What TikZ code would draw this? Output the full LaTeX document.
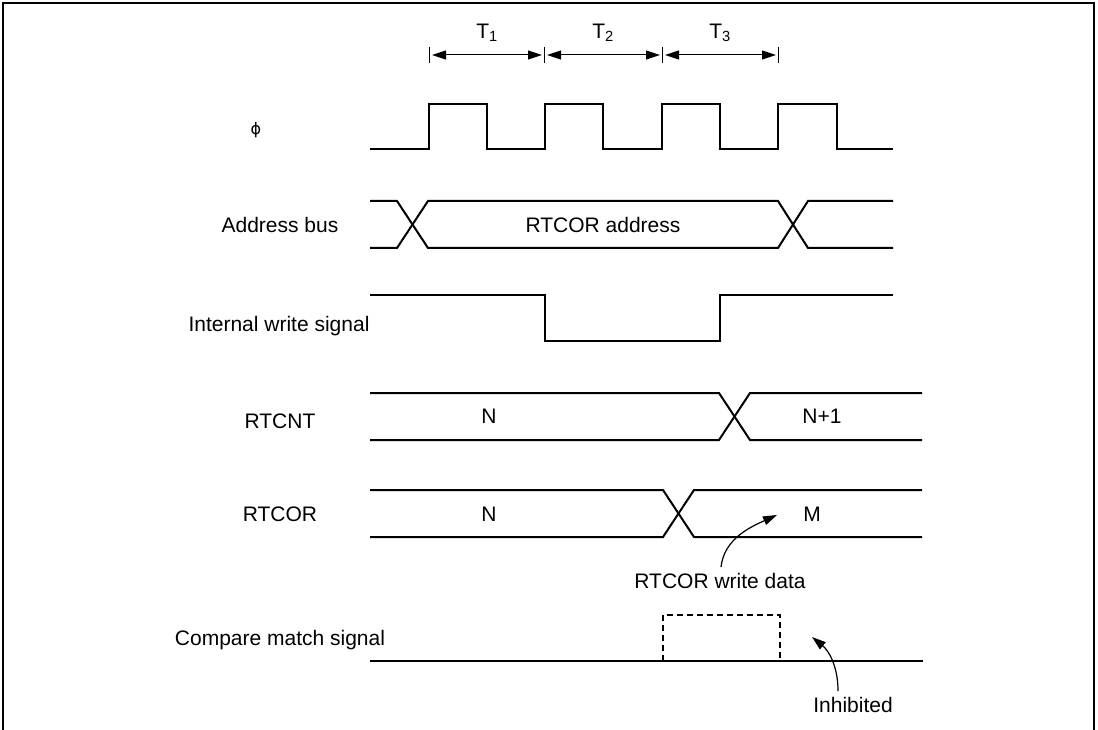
\documentclass[tikz,border=0pt]{standalone}
\usepackage{fontspec}
\setmainfont{Liberation Sans}
\newfontfamily\symfont{DejaVu Sans}
\usetikzlibrary{arrows.meta}
\begin{document}
\begin{tikzpicture}[x=1pt,y=-1pt,
  wave/.style={line width=2pt,line join=miter},
  lbl/.style={inner sep=0pt,font=\fontsize{21}{25}\selectfont},
  frame/.style={line width=1.5pt},
  tick/.style={line width=1pt},
  dim/.style={line width=1pt,{Triangle[length=14pt,width=9pt]}-{Triangle[length=14pt,width=9pt]},shorten <=3pt,shorten >=2pt},
  callout/.style={line width=1.2pt,-{Triangle[length=14pt,width=9pt]}},
  dashbox/.style={line width=1.3pt,dash pattern=on 6pt off 4pt}]
\useasboundingbox (0,0) rectangle (1098,730);
% frame
\draw[frame] (3,730) -- (3,3) -- (1094,3) -- (1094,730);
% T markers
\foreach \n/\x in {a/429,b/544,c/662,d/778}{
  \coordinate (t\n) at (\x,55);
  \draw[tick] (\x,47) -- (\x,63);
}
\draw[dim] (ta) -- (tb);
\draw[dim] (tb) -- (tc);
\draw[dim] (tc) -- (td);
\node[lbl] (T1) at (487,33) {T\textsubscript{1}};
\node[lbl] (T2) at (603,33) {T\textsubscript{2}};
\node[lbl] (T3) at (720,33) {T\textsubscript{3}};
% labels
\node[inner sep=0pt,font=\symfont\fontsize{16}{19}\selectfont] (lphi) at (256,130) {ϕ};
\node[lbl] (laddr) at (280,225) {Address bus};
\node[lbl] (lwr) at (279,326) {Internal write signal};
\node[lbl] (lcnt) at (280,421) {RTCNT};
\node[lbl] (lcor) at (280,514) {RTCOR};
\node[lbl] (lcmp) at (280,640) {Compare match signal};
% clock
\draw[wave] (370,149) -- (429,149) -- (429,104) -- (487,104) -- (487,149)
  -- (545,149) -- (545,104) -- (603,104) -- (603,149)
  -- (662,149) -- (662,104) -- (720,104) -- (720,149)
  -- (778,149) -- (778,104) -- (837,104) -- (837,149) -- (893,149);
% address bus
\draw[wave] (370,201) -- (397,201) -- (428,248) -- (778,248) -- (808,201) -- (893,201);
\draw[wave] (370,248) -- (397,248) -- (428,201) -- (778,201) -- (808,248) -- (893,248);
\node[lbl] (vaddr) at (603,225) {RTCOR address};
% internal write
\draw[wave] (370,295) -- (545,295) -- (545,341) -- (720,341) -- (720,295) -- (893,295);
% RTCNT
\draw[wave] (370,393) -- (719,393) -- (750,440) -- (922,440);
\draw[wave] (370,440) -- (719,440) -- (750,393) -- (922,393);
\node[lbl] (vcntn) at (489,416) {N};
\node[lbl] (vcntn1) at (822,416) {N+1};
% RTCOR
\draw[wave] (370,490) -- (663,490) -- (694,537) -- (922,537);
\draw[wave] (370,537) -- (663,537) -- (694,490) -- (922,490);
\node[lbl] (vcorn) at (489,514) {N};
\node[lbl] (vcorm) at (812,514) {M};
% write data callout
\node[lbl] (lwd) at (720,581) {RTCOR write data};
\coordinate (wdtip) at (777,515);
\draw[callout] ([xshift=1pt,yshift=6pt]lwd.north) .. controls (724,540) and (748,528) .. (wdtip);
% compare match
\draw[wave] (370,661) -- (923,661);
\draw[dashbox] (663,661) -- (663,615) -- (780,615) -- (780,661);
\node[lbl] (linh) at (853,705) {Inhibited};
\coordinate (inhtip) at (812,637);
\draw[callout] ([xshift=-15pt,yshift=6pt]linh.north) .. controls (838,665) and (828,650) .. (inhtip);
\end{tikzpicture}
\end{document}
